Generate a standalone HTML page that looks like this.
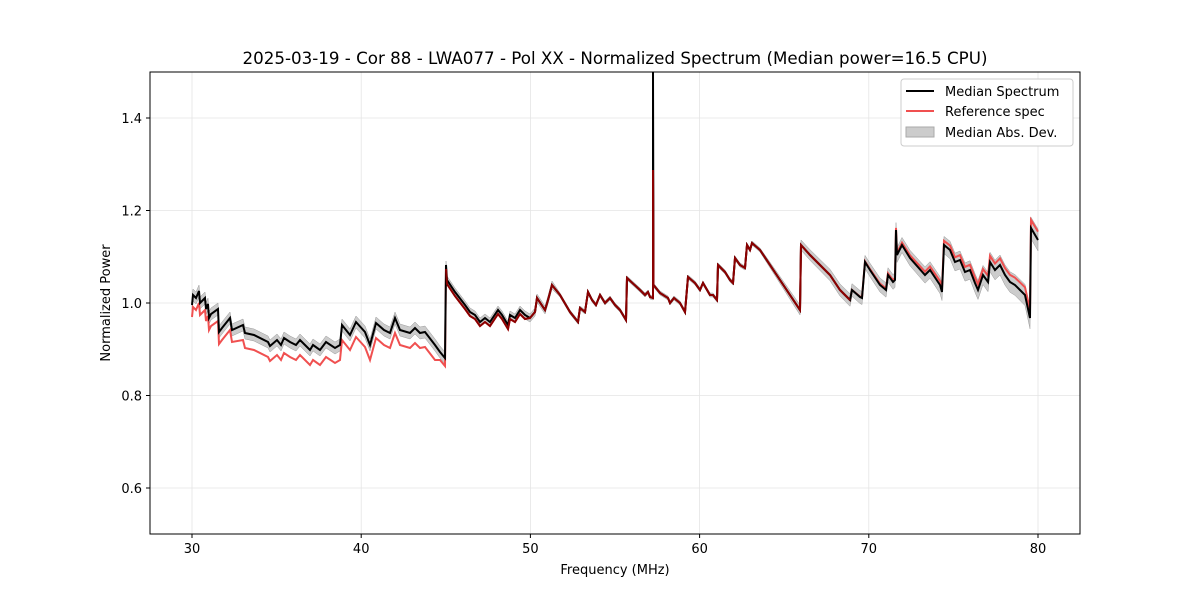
<!DOCTYPE html>
<html><head><meta charset="utf-8"><style>
body{margin:0;background:#fff;}
svg text{font-family:"DejaVu Sans","Liberation Sans",sans-serif;font-size:13px;fill:#000}
</style></head><body>
<svg id="s" width="1200" height="600" xmlns="http://www.w3.org/2000/svg">
<rect width="1200" height="600" fill="#fff"/>
<g id="grid" stroke="#e4e4e4" stroke-width="0.8"></g>
<polygon id="band" fill="#aaaaaa" fill-opacity="0.6" stroke="#999" stroke-width="0.5"/>
<polyline id="red" fill="none" stroke="#f05050" stroke-width="2"/>
<polyline id="blk" fill="none" stroke="#000" stroke-width="2"/>
<polyline id="redtop" fill="none" stroke="#8b0000" stroke-width="2"/>
<rect x="150" y="72" width="930" height="462" fill="none" stroke="#000" stroke-width="1"/>
<g id="ticks"></g>
<text x="615" y="64" text-anchor="middle" style="font-size:16.7px">2025-03-19 - Cor 88 - LWA077 - Pol XX - Normalized Spectrum (Median power=16.5 CPU)</text>
<text x="615" y="574" text-anchor="middle">Frequency (MHz)</text>
<text x="110" y="303" text-anchor="middle" transform="rotate(-90 110 303)">Normalized Power</text>
<rect x="901" y="79" width="172" height="67" fill="#fff" stroke="#ccc" rx="3"/>
<line x1="906" y1="91" x2="934" y2="91" stroke="#000" stroke-width="2"/>
<text x="945" y="96">Median Spectrum</text>
<line x1="906" y1="111" x2="934" y2="111" stroke="#f05050" stroke-width="2"/>
<text x="945" y="116">Reference spec</text>
<rect x="906" y="127" width="28" height="10" fill="#ccc" stroke="#aaa"/>
<text x="945" y="137">Median Abs. Dev.</text>
</svg>
<script>
var ns="http://www.w3.org/2000/svg";
function el(t,a,p,txt){var e=document.createElementNS(ns,t);for(var k in a)e.setAttribute(k,a[k]);if(txt)e.textContent=txt;document.getElementById(p).appendChild(e);}
for(var f=30;f<=80;f+=10){var x=192+(f-30)*16.92;el("line",{x1:x,y1:72,x2:x,y2:534},"grid");el("line",{x1:x,y1:534,x2:x,y2:538,stroke:"#000"},"ticks");el("text",{x:x,y:553,"text-anchor":"middle"},"ticks",""+f);}
for(var v=0.6;v<1.45;v+=0.2){var y=303-(v-1)*462.5;el("line",{x1:150,y1:y,x2:1080,y2:y},"grid");el("line",{x1:146,y1:y,x2:150,y2:y,stroke:"#000"},"ticks");el("text",{x:142,y:y+5,"text-anchor":"end"},"ticks",v.toFixed(1));}
var b=[192,305,193,295,196,298,199,291,200,303,203,300,205,298,206,309,208,304,209,318,211,314,218,309,219,332,222,328,230,318,232,330,243,325,245,333,254,335,268,342,270,346,277,340,281,345,284,338,290,342,296,345,300,340,310,350,313,345,320,350,326,342,335,348,340,345,342,325,350,335,356,322,365,332,370,345,376,323,384,330,390,333,395,318,400,330,410,333,415,328,420,333,425,332,435,345,440,352,445,358,446,265,447,280,455,292,465,305,470,312,475,315,480,322,485,318,490,322,498,310,502,315,505,320,508,325,510,315,515,318,520,310,525,315,530,318,535,312,537,298,545,310,548,300,552,285,560,295,570,312,578,322,580,308,585,312,588,292,592,300,596,305,600,295,605,303,610,298,615,305,620,310,626,320,627,278,640,290,645,295,648,292,650,297,653,298,653,72,653.5,285,660,293,668,298,670,303,674,298,680,303,685,312,688,277,695,283,700,290,703,283,710,295,713,295,717,300,718,265,725,272,730,280,733,283,735,258,740,265,745,268,747,245,750,250,752,243,760,250,800,310,801,245,810,255,830,275,840,290,845,295,850,300,852,290,860,297,862,298,865,262,870,270,880,285,886,290,888,275,893,282,895,280,896,230,897,255,902,245,910,258,925,275,930,270,940,285,942,292,944,245,950,250,955,262,960,260,965,272,970,270,975,283,978,290,983,275,988,282,990,262,995,270,1000,265,1005,275,1010,282,1015,285,1020,290,1025,295,1030,318,1031,228,1038,240];
function off(x){if(x<240)return 12;if(x<440)return 15;if(x<446)return 8;if(x<530)return 4;if(x<850)return 0;return -(x-850)/180*8;}
function bw(x){if(x<446)return 6;if(x<560)return 4;if(x<800)return 2;return 5+(x-800)/240*6;}
var P=[],R=[],T=[],Bo=[];
for(var i=0;i<b.length;i+=2){var x=b[i],y=b[i+1];P.push(x+","+y);
var ry=y+off(x);if(x==653&&y==72)ry=170;R.push(x+","+ry);
var w=bw(x);if(y==72)w=0;T.push(x+","+(y-w));Bo.unshift(x+","+(y+w));}
document.getElementById("blk").setAttribute("points",P.join(" "));
document.getElementById("red").setAttribute("points",R.join(" "));
document.getElementById("band").setAttribute("points",T.concat(Bo).join(" "));
var rt=[];for(var i=0;i<b.length;i+=2){var x=b[i];if(x>=446&&x<=850){var ry=b[i+1]+off(x);if(x==653&&b[i+1]==72)ry=170;rt.push(x+","+ry);}}
document.getElementById("redtop").setAttribute("points",rt.join(" "));
</script>
</body></html>
